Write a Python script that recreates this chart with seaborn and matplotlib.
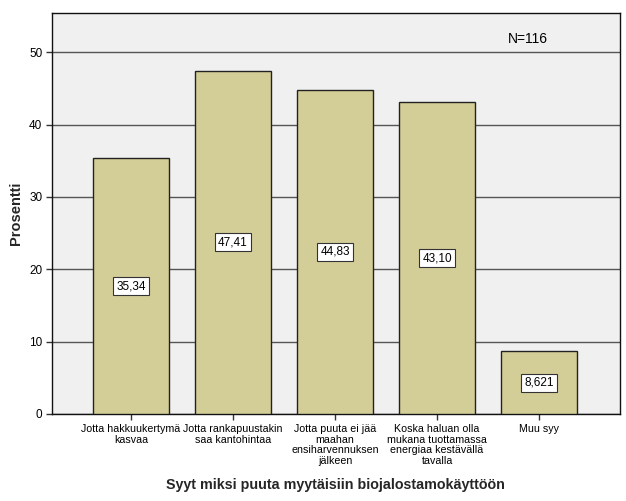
import matplotlib
matplotlib.use("Agg")
import matplotlib.pyplot as plt
import seaborn as sns
import pandas as pd

categories = [
    "Jotta hakkuukertymä\nkasvaa",
    "Jotta rankapuustakin\nsaa kantohintaa",
    "Jotta puuta ei jää\nmaahan\nensiharvennuksen\njälkeen",
    "Koska haluan olla\nmukana tuottamassa\nenergiaa kestävällä\ntavalla",
    "Muu syy",
]
percents = [35.34, 47.41, 44.83, 43.10, 8.621]
value_labels = ["35,34", "47,41", "44,83", "43,10", "8,621"]
y_ticks = [0, 10, 20, 30, 40, 50]

sns.set_style("white")
plt.rcParams["font.family"] = ["Liberation Sans", "DejaVu Sans"]
plt.rcParams["text.color"] = "black"

df = pd.DataFrame({"syy": categories, "prosentti": percents})

fig = plt.figure(figsize=(6.26, 5.01), dpi=100)
ax = fig.add_axes([0.083, 0.174, 0.907, 0.801])
ax.set_facecolor("#f0f0f0")

sns.barplot(data=df, x="syy", y="prosentti", color="#d3ce98", saturation=1,
            width=0.745, edgecolor="#222222", linewidth=1, ax=ax, zorder=3)

ax.set_ylim(0, 55.5)
ax.set_xlim(-0.775, 4.79)
ax.set_yticks(y_ticks)
ax.yaxis.grid(True, color="#555555", linewidth=1)
ax.set_axisbelow(True)
for s in ax.spines.values():
    s.set_color("#111111")
    s.set_linewidth(1)

ax.tick_params(axis="both", which="major", direction="out", length=4,
               width=1, color="#333333", labelsize=8.5, labelcolor="black",
               bottom=True, left=True, pad=3)
ax.set_xticks(range(len(categories)))
ax.set_xticklabels(categories, fontsize=7.7, linespacing=1.12)

for i, (v, lab) in enumerate(zip(percents, value_labels)):
    ax.text(i, v / 2, lab, ha="center", va="center", fontsize=8.5, zorder=5,
            bbox=dict(boxstyle="square,pad=0.25", facecolor="white",
                      edgecolor="#333333", linewidth=0.8))

ax.text(3.89, 51.9, "N=116", ha="center", va="center", fontsize=10)

ax.set_ylabel("Prosentti", fontsize=10.5, fontweight="bold", labelpad=4)
ax.set_xlabel("Syyt miksi puuta myytäisiin biojalostamokäyttöön",
              fontsize=10.3, fontweight="bold", labelpad=8)

fig.savefig("out.png", dpi=100)
